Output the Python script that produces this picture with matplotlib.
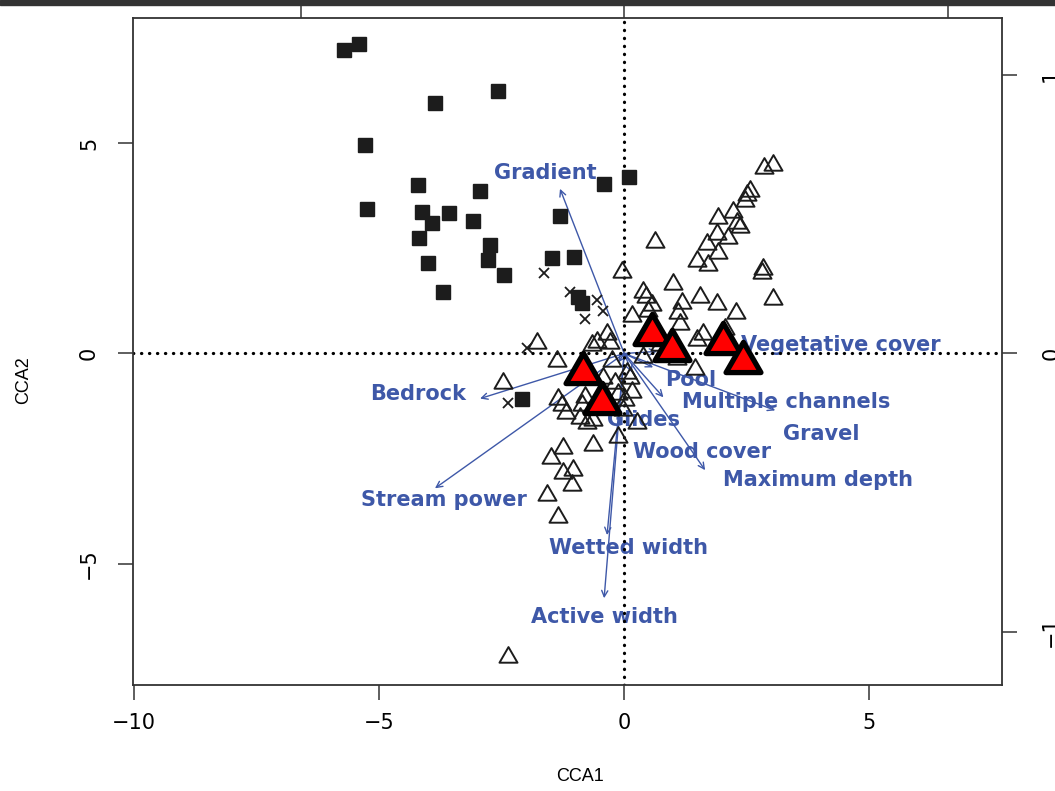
import numpy as np
import matplotlib.pyplot as plt
from matplotlib.path import Path
from matplotlib.markers import MarkerStyle
from matplotlib.patches import Rectangle

plt.rcParams['font.family'] = ['DejaVu Sans']

# site scores, group 1 (filled squares)
sq_x = [-5.71, -5.41, -3.86, -2.57, -5.29, -5.24, -4.20, -2.94, -4.12, -3.92, -3.57, -3.08, -4.18,
        -2.73, -2.78, -4.00, -2.45, -3.69, -1.31, -1.47, -1.02, -0.41, 0.10, -0.94, -0.86, -2.08]
sq_y = [7.20, 7.35, 5.95, 6.23, 4.95, 3.44, 4.00, 3.86, 3.36, 3.10, 3.34, 3.15, 2.75,
        2.58, 2.23, 2.16, 1.87, 1.45, 3.27, 2.27, 2.30, 4.03, 4.19, 1.35, 1.21, -1.07]

# site scores, group 2 (crosses)
cr_x = [-1.63, -1.10, -0.55, -0.43, -0.80, -1.98, -2.37]
cr_y = [1.90, 1.45, 1.26, 1.02, 0.83, 0.14, -1.18]

# site scores, group 3 (open triangles)
tri_x = [2.86, 3.04, 2.51, 2.57, 2.47, 1.92, 2.22, 2.31, 2.37, 1.90, 2.12, 1.69, 1.92, 1.49, 1.71,
         2.82, 2.84, 3.04, 0.63,
         -0.04, 1.00, 0.39, 0.45, 1.55, 1.90, 1.18, 0.57, 0.16, 2.27, 1.10, 1.14, 0.49, 2.06, 1.61,
         1.49, 1.45, 1.08, -0.35, -0.29, -0.65, -0.55, -1.78, -1.37, -0.24, 0.06, 0.12, -0.18, -0.43,
         -0.12, 0.02, -0.35, -0.02, 0.39, 0.73, 0.16,
         -2.47, -1.35, -1.27, -1.18, -0.90, -0.80, -0.86, -0.76, -0.63, 0.27, -0.12, -0.63, -1.24,
         -1.49, -1.24, -1.04, -1.06, -1.57, -1.35, -2.37]
tri_y = [4.41, 4.48, 3.77, 3.86, 3.63, 3.22, 3.36, 3.10, 3.01, 2.84, 2.75, 2.61, 2.39, 2.20, 2.09,
         1.92, 2.01, 1.30, 2.65,
         1.94, 1.66, 1.47, 1.35, 1.33, 1.18, 1.21, 1.14, 0.90, 0.95, 0.95, 0.71, 1.02, 0.59, 0.47,
         0.31, -0.36, -0.12, 0.47, 0.26, 0.19, 0.28, 0.26, -0.19, -0.17, -0.47, -0.59, -0.71, -0.57,
         -0.95, -1.11, -1.07, -1.35, -0.09, 0.19, -0.92,
         -0.71, -1.07, -1.23, -1.42, -1.54, -1.04, -1.23, -1.64, -1.59, -1.64, -1.99, -2.18, -2.25,
         -2.49, -2.84, -2.77, -3.13, -3.36, -3.89, -7.20]

# highlighted sites (red triangles)
red_x = [0.57, 0.98, 2.02, 2.43, -0.84, -0.45]
red_y = [0.47, 0.09, 0.24, -0.21, -0.47, -1.18]

# environmental variables: arrow tips and label positions
env_names = ["Gradient", "Bedrock", "Stream power", "Wetted width", "Active width",
             "Maximum depth", "Gravel", "Multiple channels", "Pool", "Vegetative cover",
             "Glides", "Wood cover"]
env_x = [-1.31, -2.94, -3.86, -0.35, -0.41, 1.65, 3.08, 0.80, 0.59, 0.67, -0.12, 0.16]
env_y = [3.91, -1.07, -3.20, -4.31, -5.81, -2.77, -1.35, -1.04, -0.33, 0.05, -0.21, -0.45]
lab_x = [-1.61, -4.20, -3.67, 0.08, -0.41, 3.96, 4.02, 3.31, 1.35, 4.41, 0.39, 1.59]
lab_y = [4.29, -0.97, -3.48, -4.62, -6.26, -3.01, -1.92, -1.16, -0.62, 0.19, -1.59, -2.35]

blue = '#3e58a8'

fig = plt.figure(figsize=(10.55, 7.91), dpi=100)
ax = fig.add_axes([0.126, 0.134, 0.824, 0.843])

# R-style triangle (pch 2), centred on centroid
tri_path = Path([(0, 1), (-0.866, -0.5), (0.866, -0.5), (0, 1)],
                [Path.MOVETO, Path.LINETO, Path.LINETO, Path.CLOSEPOLY])
tri_marker = MarkerStyle(tri_path, joinstyle='round')

for i, name in enumerate(env_names):
    ax.annotate("", xy=(env_x[i], env_y[i]), xytext=(0, 0),
                arrowprops=dict(arrowstyle='->', color=blue, lw=1.0,
                                shrinkA=0, shrinkB=0, mutation_scale=11),
                zorder=2)
    ax.text(lab_x[i], lab_y[i], name, color=blue, fontsize=15, fontweight='bold',
            ha='center', va='center', zorder=2)

ax.axhline(0, color='black', lw=2.3, linestyle=(0, (0.1, 2.4)),
           dash_capstyle='round', zorder=2.5)
ax.axvline(0, color='black', lw=2.3, linestyle=(0, (0.1, 2.4)),
           dash_capstyle='round', zorder=2.5)

ax.plot(sq_x, sq_y, 's', color='#1c1c1c', ms=10.5, ls='none', zorder=3)
ax.plot(cr_x, cr_y, 'x', color='#1c1c1c', ms=7, mew=1.3, ls='none', zorder=3)
ax.plot(tri_x, tri_y, marker=tri_marker, ls='none', ms=15, mfc='none',
        mec='#1c1c1c', mew=1.4, zorder=3)
ax.plot(red_x, red_y, marker=tri_marker, ls='none', ms=29, mfc='#ff0000',
        mec='black', mew=3.8, zorder=4)

ax.set_xlim(-10.02, 7.71)
ax.set_ylim(-7.87, 7.96)
ax.set_xticks([-10, -5, 0, 5])
ax.set_yticks([-5, 0, 5])
ax.tick_params(axis='both', direction='out', length=10.5, width=1.1, color='#333333',
               labelsize=15)
ax.tick_params(axis='x', pad=10)
ax.tick_params(axis='y', pad=14)
for lab in ax.get_yticklabels():
    lab.set_rotation(90)
    lab.set_va('center')
for sp in ax.spines.values():
    sp.set_color('#333333')
    sp.set_linewidth(1.3)

ax.set_xlabel("CCA1", fontsize=13, family='Liberation Sans')
ax.set_ylabel("CCA2", fontsize=13, family='Liberation Sans')
ax.xaxis.set_label_coords(0.514, -0.124)
ax.yaxis.set_label_coords(-0.116, 0.457)

# secondary scales (species scores)
top = ax.secondary_xaxis('top', functions=(lambda x: x / 6.6, lambda x: x * 6.6))
top.set_xticks([-1, 0, 1])
top.set_xticklabels([])
top.tick_params(direction='out', length=10.5, width=1.1, color='#333333')
top.spines['top'].set_visible(False)

right = ax.secondary_yaxis('right', functions=(lambda y: y / 6.6, lambda y: y * 6.6))
right.set_yticks([-1, 0, 1])
right.tick_params(direction='out', length=11, width=1.1, color='#333333',
                  labelsize=15, pad=17)
for lab in right.get_yticklabels():
    lab.set_rotation(90)
    lab.set_va('center')
right.spines['right'].set_visible(False)

# dark band at the top of the screenshot
fig.add_artist(Rectangle((0, 1 - 5 / 791), 1, 5 / 791, transform=fig.transFigure,
                         color='#333333', zorder=10))

fig.savefig("out.png", dpi=100)
